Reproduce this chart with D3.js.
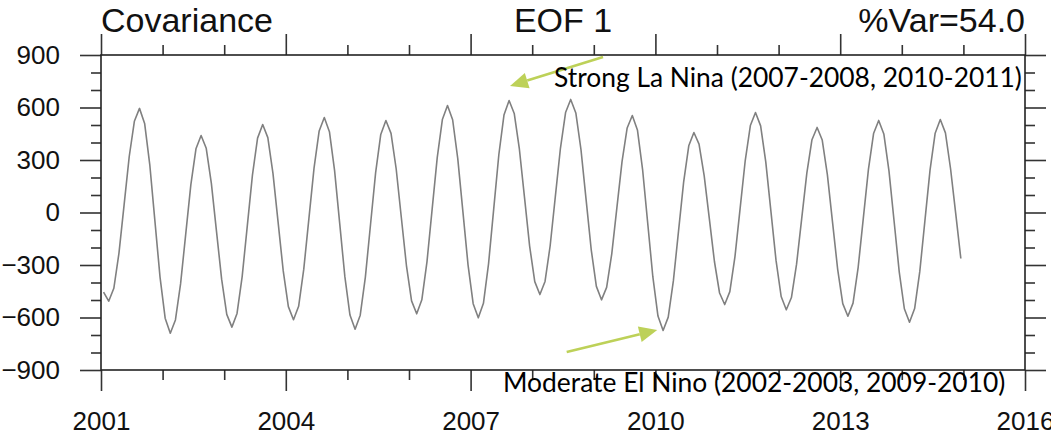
<!DOCTYPE html>
<html>
<head>
<meta charset="utf-8">
<script src="https://cdn.jsdelivr.net/npm/d3@7"></script>
<style>
  html, body { margin: 0; padding: 0; background: #fff; }
  svg { display: block; }
</style>
</head>
<body>
<svg id="chart" width="1051" height="433"></svg>
<script>
  // monthly EOF1 time series, Jan 2001 .. Dec 2014
  var startYear = 2001;
  var eof1 = [
    -455, -507, -433, -232,   44,  320,  521,  595,  509,  274,  -48, -369,
    -604, -690, -614, -408, -125,  158,  364,  440,  367,  166, -108, -381,
    -582, -655, -577, -366,  -76,  214,  425,  503,  428,  224,  -55, -334,
    -538, -613, -536, -324,  -35,  254,  466,  543,  462,  241,  -62, -365,
    -586, -667, -587, -369,  -70,  228,  446,  526,  452,  250,  -27, -303,
    -505, -579, -499, -282,   16,  314,  531,  611,  530,  308,    5, -299,
    -521, -602, -519, -292,   19,  330,  557,  640,  566,  363,   86, -192,
    -395, -469, -394, -190,   89,  367,  571,  646,  569,  360,   74, -213,
    -422, -499, -428, -236,   28,  291,  483,  554,  472,  247,  -60, -367,
    -592, -674, -598, -391, -108,  174,  381,  457,  391,  211,  -34, -280,
    -460, -526, -452, -252,   22,  297,  497,  571,  495,  289,    8, -274,
    -480, -556, -486, -295,  -35,  225,  416,  486,  414,  216,  -54, -323,
    -521, -593, -518, -313,  -34,  246,  451,  526,  449,  238,  -50, -339,
    -550, -627, -549, -338,  -48,  242,  453,  531,  455,  250,   -5, -263
  ];

  var xTicks = [2001, 2004, 2007, 2010, 2013, 2016];
  var yTicks = [-900, -600, -300, 0, 300, 600, 900];
  var titleLeft = 'Covariance', titleCenter = 'EOF 1', titleRight = '%Var=54.0';

  // annotations in data units (year, value)
  var notes = [
    { text: 'Strong La Nina (2007-2008, 2010-2011)', x0: 2008.354, x1: 2015.95, y: 717 },
    { text: 'Moderate El Nino (2002-2003, 2009-2010)', x0: 2007.526, x1: 2015.68, y: -1026 }
  ];
  var arrows = [
    { from: [2009.15, 889], to: [2007.64, 723] },
    { from: [2008.56, -797], to: [2010.03, -671] }
  ];

(function() {
  var svg = d3.select('#chart'),
      m = { left: 101, right: 1025, top: 55, bottom: 370 };

  var x = d3.scaleLinear().domain([2001, 2016]).range([m.left, m.right]);
  var y = d3.scaleLinear().domain([-900, 900]).range([m.bottom, m.top]);

  var xMinor = d3.range(2001, 2017).filter(function(d) { return xTicks.indexOf(d) < 0; });
  var yMinor = d3.range(-900, 901, 100).filter(function(d) { return yTicks.indexOf(d) < 0; });

  var tf = '"Liberation Sans", Arial, sans-serif';

  function styleAxis(g) {
    g.attr('font-family', tf).attr('font-size', 26);
    g.select('.domain').remove();
    g.selectAll('.tick line').attr('stroke', '#333').attr('stroke-width', 1.6);
    g.selectAll('.tick text').attr('fill', '#111');
  }

  // minor ticks
  svg.append('g').attr('transform', 'translate(0,' + m.bottom + ')')
    .call(d3.axisBottom(x).tickValues(xMinor).tickSize(10).tickFormat('')).call(styleAxis);
  svg.append('g').attr('transform', 'translate(0,' + m.top + ')')
    .call(d3.axisTop(x).tickValues(xMinor).tickSize(10).tickFormat('')).call(styleAxis);
  svg.append('g').attr('transform', 'translate(' + m.left + ',0)')
    .call(d3.axisLeft(y).tickValues(yMinor).tickSize(10).tickFormat('')).call(styleAxis);
  svg.append('g').attr('transform', 'translate(' + m.right + ',0)')
    .call(d3.axisRight(y).tickValues(yMinor).tickSize(10).tickFormat('')).call(styleAxis);

  // major ticks
  svg.append('g').attr('transform', 'translate(0,' + m.bottom + ')')
    .call(d3.axisBottom(x).tickValues(xTicks).tickSize(21).tickPadding(21).tickFormat(d3.format('d'))).call(styleAxis);
  svg.append('g').attr('transform', 'translate(0,' + m.top + ')')
    .call(d3.axisTop(x).tickValues(xTicks).tickSize(21).tickFormat('')).call(styleAxis);
  svg.append('g').attr('transform', 'translate(' + m.left + ',0)')
    .call(d3.axisLeft(y).tickValues(yTicks).tickSize(21).tickPadding(20).tickFormat(d3.format('d'))).call(styleAxis);
  svg.append('g').attr('transform', 'translate(' + m.right + ',0)')
    .call(d3.axisRight(y).tickValues(yTicks).tickSize(21).tickFormat('')).call(styleAxis);

  // frame
  svg.append('rect')
    .attr('x', m.left).attr('y', m.top)
    .attr('width', m.right - m.left).attr('height', m.bottom - m.top)
    .attr('fill', 'none').attr('stroke', '#222').attr('stroke-width', 1.6);

  // series
  var line = d3.line()
    .x(function(d, i) { return x(startYear + (i + 0.5) / 12); })
    .y(function(d) { return y(d); });

  svg.append('path')
    .datum(eof1)
    .attr('fill', 'none')
    .attr('stroke', '#808080')
    .attr('stroke-width', 1.6)
    .attr('stroke-linejoin', 'round')
    .attr('d', line);

  // titles
  svg.append('text').attr('x', m.left).attr('y', 32).attr('font-family', tf).attr('font-size', 34)
    .attr('fill', '#111').text(titleLeft);
  svg.append('text').attr('x', (m.left + m.right) / 2).attr('y', 32).attr('text-anchor', 'middle')
    .attr('font-family', tf).attr('font-size', 34).attr('fill', '#111').text(titleCenter);
  svg.append('text').attr('x', m.right).attr('y', 32).attr('text-anchor', 'end')
    .attr('font-family', tf).attr('font-size', 34).attr('fill', '#111').text(titleRight);

  // annotation arrows
  var green = '#bdd158';
  arrows.forEach(function(a) {
    var x0 = x(a.from[0]), y0 = y(a.from[1]), x1 = x(a.to[0]), y1 = y(a.to[1]);
    var ang = Math.atan2(y1 - y0, x1 - x0), len = 18, wid = 8;
    var bx = x1 - len * Math.cos(ang), by = y1 - len * Math.sin(ang);
    svg.append('line')
      .attr('x1', x0).attr('y1', y0).attr('x2', bx).attr('y2', by)
      .attr('stroke', green).attr('stroke-width', 2.6);
    svg.append('path')
      .attr('d', 'M' + x1 + ',' + y1 +
                 'L' + (bx + wid * Math.sin(ang)) + ',' + (by - wid * Math.cos(ang)) +
                 'L' + (bx - wid * Math.sin(ang)) + ',' + (by + wid * Math.cos(ang)) + 'Z')
      .attr('fill', green);
  });

  // annotation text
  notes.forEach(function(n) {
    svg.append('text')
      .attr('x', x(n.x0)).attr('y', y(n.y))
      .attr('font-family', 'Lato, "Open Sans", sans-serif')
      .attr('font-size', 26)
      .attr('fill', '#000')
      .attr('textLength', x(n.x1) - x(n.x0))
      .attr('lengthAdjust', 'spacingAndGlyphs')
      .text(n.text);
  });
})();
</script>
</body>
</html>
